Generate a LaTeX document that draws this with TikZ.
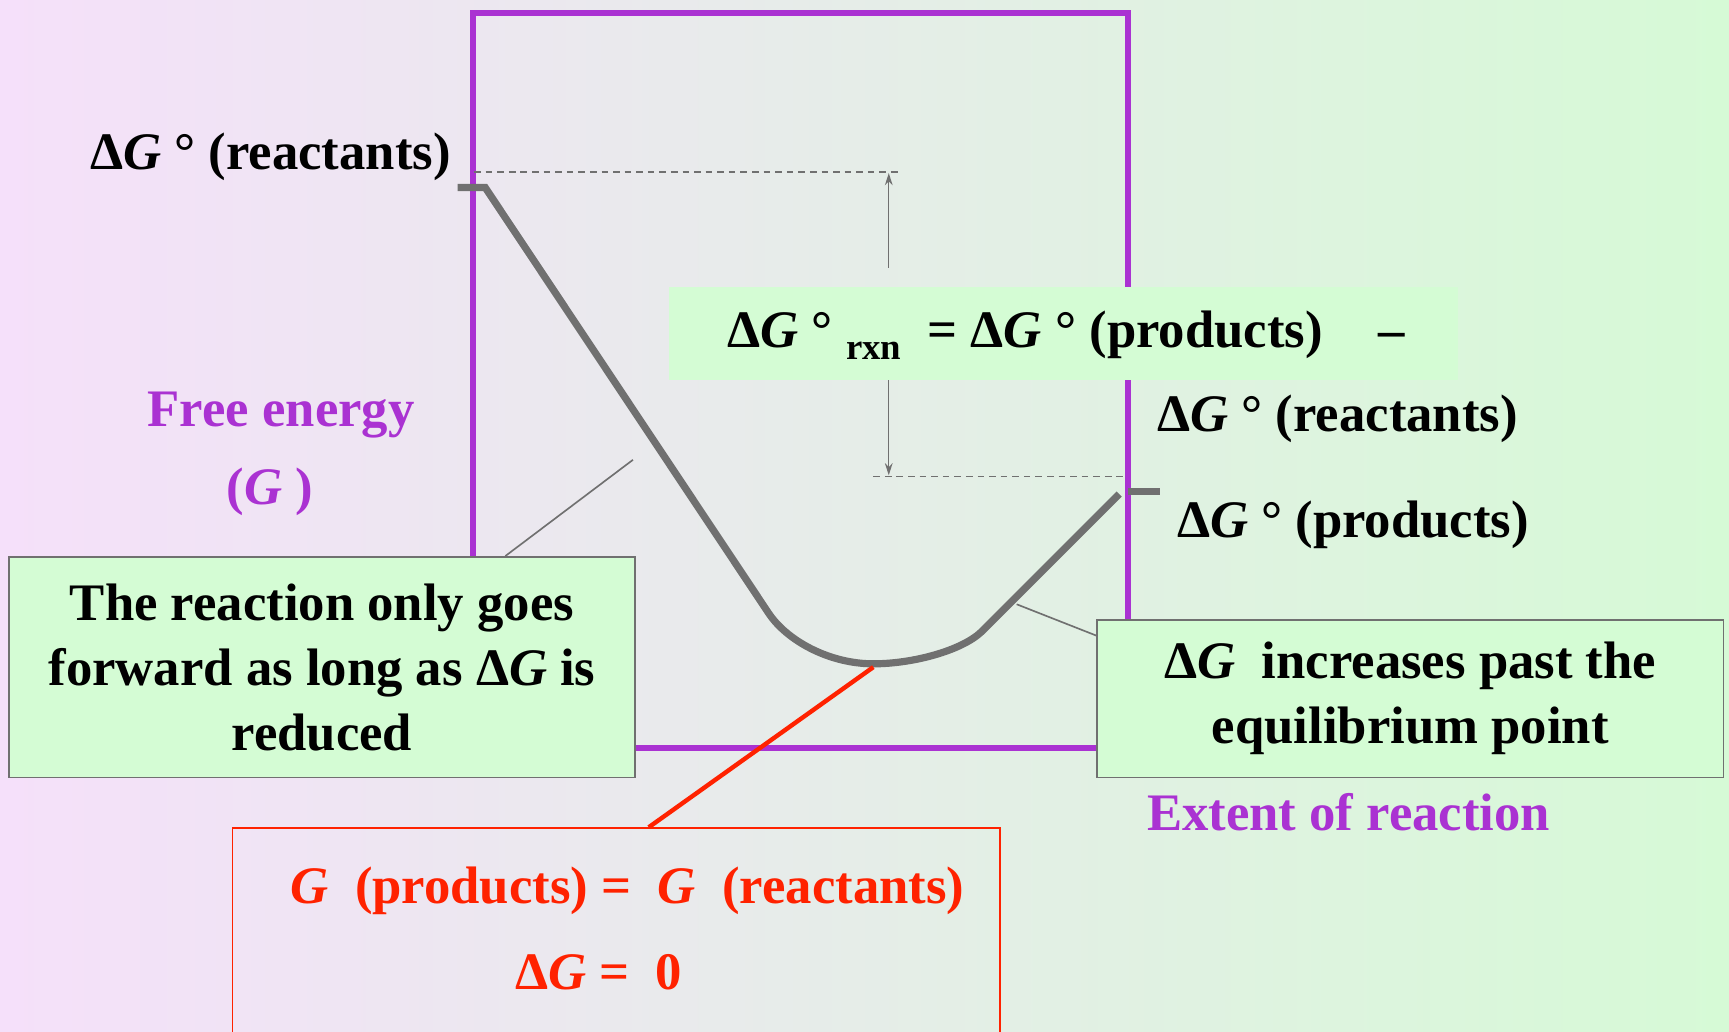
\documentclass[tikz,border=0pt]{standalone}
\usepackage{fontspec}
\setmainfont{Liberation Serif}
\usepackage{xcolor}
\usepackage{tikz}
\usetikzlibrary{positioning, arrows.meta, calc}
\definecolor{framepurple}{RGB}{170,50,210}
\definecolor{curvegray}{RGB}{112,112,112}
\definecolor{boxgreen}{RGB}{212,252,212}
\definecolor{eqred}{RGB}{255,34,0}
\definecolor{bgleft}{RGB}{245,224,250}
\definecolor{bgmid}{RGB}{232,232,240}
\definecolor{bgright}{RGB}{214,250,214}
\newcommand{\DelG}{Δ\textit{G}}
\tikzset{
  lbl/.style={font=\bfseries\fontsize{27.2}{33.5}\selectfont, inner sep=0pt},
  frame/.style={draw=framepurple, line width=1.1mm},
  curve/.style={draw=curvegray, line width=1.3mm},
  guide/.style={draw=curvegray, line width=0.3mm, dash pattern=on 1.2mm off 0.9mm},
  dim/.style={draw=curvegray, line width=0.25mm, -{Stealth[length=2.2mm, width=1.4mm]}},
  note/.style={lbl, draw=curvegray, line width=0.3mm, fill=boxgreen, align=center},
  callout/.style={draw=curvegray, line width=0.3mm},
}

\begin{document}
\begin{tikzpicture}[x=0.2mm, y=-0.2mm]
  \useasboundingbox (0,0) rectangle (1568,935);
  %% ── background ──
  \shade[left color=bgleft, middle color=bgmid, right color=bgright]
    (0,0) rectangle (1568,935);

  %% ── plot frame ──
  \draw[frame] (429,12) rectangle (1023,678);

  %% ── dashed levels and difference arrows ──
  \coordinate (topL)  at (430,156);
  \coordinate (topR)  at (818,156);
  \coordinate (botL)  at (792,432);
  \coordinate (botR)  at (1022,432);
  \draw[guide] (topL) -- (topR);
  \draw[guide] (botL) -- (botR);
  \draw[dim] (806,243) -- (806,157);
  \draw[dim] (806,345) -- (806,431);

  %% ── free energy curve ──
  \coordinate (eqpt) at (792,605);
  \draw[curve] (415,170) -- (440,170) -- (697,556)
    .. controls (713.6,581) and (752,602) .. (792,602)
    .. controls (828,602) and (872,590) .. (890,573) -- (1015,448);
  \draw[curve] (1023,446) -- (1052,446);

  %% ── axis labels ──
  \node[lbl, anchor=east] (reactL) at (409,142) {\DelG\ ° (reactants)};
  \node[lbl, text=framepurple] (yname) at (255,376) {Free energy};
  \node[lbl, text=framepurple] (ysym)  at (245,446) {(\textit{G}\ )};
  \node[lbl, text=framepurple] (xname) at (1223,737) {Extent of reaction};
  \node[lbl] (reactR) at (1213,380) {\DelG\ ° (reactants)};
  \node[lbl] (prodR)  at (1227,476) {\DelG\ ° (products)};

  %% ── formula box ──
  \node[fill=boxgreen, minimum width=143mm, minimum height=17mm]
    (rxn) at (964.5,302.5) {};
  \node[lbl] (rxntxt) at (967,304)
    {\DelG\ °\ \raisebox{-0.5ex}{\fontsize{19}{20}\selectfont rxn}\ \ = \DelG\ ° (products)\hspace{1.06em}–};

  %% ── notes ──
  \node[note, minimum width=113.6mm, minimum height=40mm] (fwdbox) at (292,605)
    {The reaction only goes\\ forward as long as \DelG{} is\\ reduced};
  \node[note, minimum width=113.6mm, minimum height=28.6mm] (incbox) at (1279,633.5)
    {\DelG\ \ increases past the\\ equilibrium point};
  \coordinate (fwdtip) at (574,417);
  \coordinate (inctip) at (922,548);
  \draw[callout] ($(fwdbox.north west)!0.792!(fwdbox.north east)$) -- (fwdtip);
  \draw[callout] ($(incbox.north west)!0.105!(incbox.south west)$) -- (inctip);

  %% ── equilibrium box ──
  \node[draw=eqred, line width=0.3mm, minimum width=139.2mm, minimum height=44mm]
    (eqbox) at (559,861) {};
  \node[lbl, text=eqred] (eqtxt1) at (569,808)
    {\textit{G}\ \ (products) =\ \ \textit{G}\ \ (reactants)};
  \node[lbl, text=eqred] (eqtxt2) at (543,882) {\DelG{} =\ \ 0};
  \draw[eqred, line width=0.8mm] (eqpt)
    -- ($(eqbox.north west)!0.542!(eqbox.north east)$);
\end{tikzpicture}
\end{document}
